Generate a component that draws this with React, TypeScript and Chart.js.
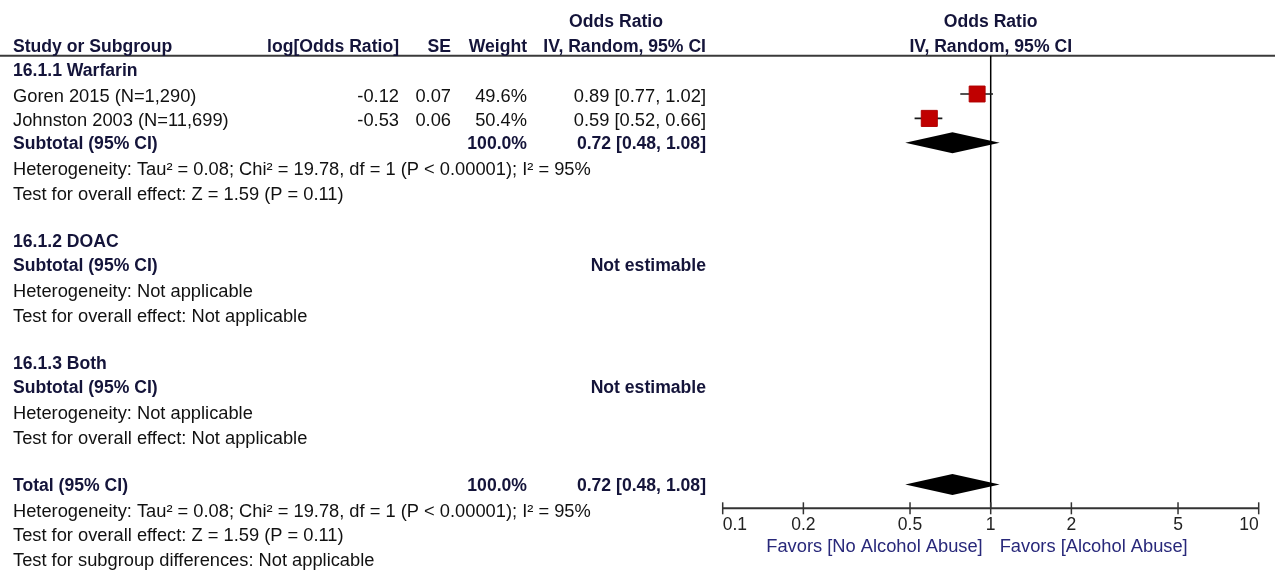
import React, { useEffect, useRef } from "react";
import { Chart, registerables } from "chart.js";

Chart.register(...registerables);

// ---------- data ----------
const studyLabels = ["Goren 2015 (N=1,290)", "Johnston 2003 (N=11,699)"];
const studyLogOR = ["-0.12", "-0.53"];
const studySE = ["0.07", "0.06"];
const studyWeight = [49.6, 50.4];
const studyOR = [0.89, 0.59];
const studyLow = [0.77, 0.52];
const studyHigh = [1.02, 0.66];
const studyRows = [1, 2];

const pooledLabels = ["Subtotal (95% CI)", "Total (95% CI)"];
const pooledRows = [3, 17];
const pooledWeight = [100.0, 100.0];
const pooledOR = [0.72, 0.72];
const pooledLow = [0.48, 0.48];
const pooledHigh = [1.08, 1.08];

const axisTicks = [0.1, 0.2, 0.5, 1, 2, 5, 10];
const axisTickLabels = ["0.1", "0.2", "0.5", "1", "2", "5", "10"];
const favorsLabels = ["Favors [No Alcohol Abuse]", "Favors [Alcohol Abuse]"];

// [row, text, bold]
const leftTextRows: [number, string, boolean][] = [
  [0, "16.1.1 Warfarin", true],
  [4, "Heterogeneity: Tau\u00B2 = 0.08; Chi\u00B2 = 19.78, df = 1 (P < 0.00001); I\u00B2 = 95%", false],
  [5, "Test for overall effect: Z = 1.59 (P = 0.11)", false],
  [7, "16.1.2 DOAC", true],
  [8, "Subtotal (95% CI)", true],
  [9, "Heterogeneity: Not applicable", false],
  [10, "Test for overall effect: Not applicable", false],
  [12, "16.1.3 Both", true],
  [13, "Subtotal (95% CI)", true],
  [14, "Heterogeneity: Not applicable", false],
  [15, "Test for overall effect: Not applicable", false],
  [18, "Heterogeneity: Tau\u00B2 = 0.08; Chi\u00B2 = 19.78, df = 1 (P < 0.00001); I\u00B2 = 95%", false],
  [19, "Test for overall effect: Z = 1.59 (P = 0.11)", false],
  [20, "Test for subgroup differences: Not applicable", false],
];
const notEstimableRows = [8, 13];

// ---------- styles ----------
const FONT = '"Liberation Sans", Arial, sans-serif';
const TEXT_COLOR = "#111111";
const BOLD_COLOR = "#14143a";
const FAVORS_COLOR = "#28287a";
const REG_SIZE = 18.3;
const BOLD_SIZE = 17.6;
const REG_DY = 3;
const BOLD_DY = 1.5;
const COL_LEFT = 13;
const COL_LOG = 399;
const COL_SE = 451;
const COL_WEIGHT = 527;
const COL_CI = 706;
const COL_HEADER_CENTER = 616;

const fmt2 = (v: number) => v.toFixed(2);
const ciText = (o: number, l: number, h: number) => `${fmt2(o)} [${fmt2(l)}, ${fmt2(h)}]`;

const forestPlugin = {
  id: "forestPlugin",
  beforeDatasetsDraw(chart: any) {
    const { ctx, chartArea, scales } = chart;
    const x = scales.x;
    const y = scales.y;
    ctx.save();

    // header rule
    ctx.strokeStyle = "#3a3a3a";
    ctx.lineWidth = 2;
    ctx.beginPath();
    ctx.moveTo(0, chartArea.top);
    ctx.lineTo(chart.width, chartArea.top);
    ctx.stroke();

    // null line
    const x1 = x.getPixelForValue(1);
    ctx.strokeStyle = "#000";
    ctx.lineWidth = 1.5;
    ctx.beginPath();
    ctx.moveTo(x1, chartArea.top);
    ctx.lineTo(x1, chartArea.bottom);
    ctx.stroke();

    // axis
    const ay = chartArea.bottom;
    ctx.strokeStyle = "#333";
    ctx.lineWidth = 2;
    ctx.beginPath();
    ctx.moveTo(x.getPixelForValue(axisTicks[0]), ay);
    ctx.lineTo(x.getPixelForValue(axisTicks[axisTicks.length - 1]), ay);
    ctx.stroke();
    ctx.lineWidth = 1.5;
    axisTicks.forEach((t) => {
      const px = x.getPixelForValue(t);
      ctx.beginPath();
      ctx.moveTo(px, ay - 6);
      ctx.lineTo(px, ay + 6);
      ctx.stroke();
    });
    ctx.fillStyle = "#222";
    ctx.font = `17.5px ${FONT}`;
    ctx.textBaseline = "middle";
    axisTicks.forEach((t, i) => {
      const px = x.getPixelForValue(t);
      ctx.textAlign = i === 0 ? "left" : i === axisTicks.length - 1 ? "right" : "center";
      ctx.fillText(axisTickLabels[i], px, ay + 17);
    });
    ctx.font = `18.3px ${FONT}`;
    ctx.fillStyle = FAVORS_COLOR;
    ctx.textAlign = "right";
    ctx.fillText(favorsLabels[0], x1 - 8, ay + 39);
    ctx.textAlign = "left";
    ctx.fillText(favorsLabels[1], x1 + 9, ay + 39);

    // ---------- table text ----------
    const py = (r: number) => y.getPixelForValue(r);
    const put = (t: string, px: number, r: number, align: CanvasTextAlign, bold: boolean) => {
      ctx.font = bold ? `bold ${BOLD_SIZE}px ${FONT}` : `${REG_SIZE}px ${FONT}`;
      ctx.fillStyle = bold ? BOLD_COLOR : TEXT_COLOR;
      ctx.textAlign = align;
      ctx.textBaseline = "middle";
      ctx.fillText(t, px, py(r) + (bold ? BOLD_DY : REG_DY));
    };

    // headers
    put("Odds Ratio", COL_HEADER_CENTER, -2, "center", true);
    put("Odds Ratio", x1, -2, "center", true);
    put("Study or Subgroup", COL_LEFT, -1, "left", true);
    put("log[Odds Ratio]", COL_LOG, -1, "right", true);
    put("SE", COL_SE, -1, "right", true);
    put("Weight", COL_WEIGHT, -1, "right", true);
    put("IV, Random, 95% CI", COL_CI, -1, "right", true);
    put("IV, Random, 95% CI", x1, -1, "center", true);

    leftTextRows.forEach(([r, t, b]) => put(t, COL_LEFT, r, "left", b));
    notEstimableRows.forEach((r) => put("Not estimable", COL_CI, r, "right", true));

    studyLabels.forEach((lab, i) => {
      const r = studyRows[i];
      put(lab, COL_LEFT, r, "left", false);
      put(studyLogOR[i], COL_LOG, r, "right", false);
      put(studySE[i], COL_SE, r, "right", false);
      put(`${studyWeight[i].toFixed(1)}%`, COL_WEIGHT, r, "right", false);
      put(ciText(studyOR[i], studyLow[i], studyHigh[i]), COL_CI, r, "right", false);
    });
    pooledLabels.forEach((lab, i) => {
      const r = pooledRows[i];
      put(lab, COL_LEFT, r, "left", true);
      put(`${pooledWeight[i].toFixed(1)}%`, COL_WEIGHT, r, "right", true);
      put(ciText(pooledOR[i], pooledLow[i], pooledHigh[i]), COL_CI, r, "right", true);
    });

    ctx.restore();
  },
  afterDatasetsDraw(chart: any) {
    const { ctx, scales } = chart;
    const x = scales.x;
    const y = scales.y;
    ctx.save();
    ctx.fillStyle = "#000";
    const half = 10.5;
    pooledRows.forEach((r, i) => {
      const cy = y.getPixelForValue(r);
      const xl = x.getPixelForValue(pooledLow[i]);
      const xm = x.getPixelForValue(pooledOR[i]);
      const xh = x.getPixelForValue(pooledHigh[i]);
      ctx.beginPath();
      ctx.moveTo(xl, cy);
      ctx.lineTo(xm, cy - half);
      ctx.lineTo(xh, cy);
      ctx.lineTo(xm, cy + half);
      ctx.closePath();
      ctx.fill();
    });
    ctx.restore();
  },
};

export default function App() {
  const ref = useRef<HTMLCanvasElement | null>(null);
  useEffect(() => {
    document.body.style.margin = "0";
    const canvas = ref.current!;
    const W = 1275;
    const H = 571;
    const ciSets = studyLabels.map((_, i) => ({
      type: "scatter" as const,
      data: [
        { x: studyLow[i], y: studyRows[i] },
        { x: studyHigh[i], y: studyRows[i] },
      ],
      showLine: true,
      borderColor: "#1a1a1a",
      borderWidth: 1.6,
      pointRadius: 0,
      order: 2,
    }));
    const chart = new Chart(canvas, {
      type: "scatter",
      data: {
        datasets: [
          ...ciSets,
          {
            data: studyOR.map((v, i) => ({ x: v, y: studyRows[i] })),
            pointStyle: "rect",
            pointRadius: studyWeight.map((w) => 11.3 * Math.sqrt(w / 50)),
            backgroundColor: "#c00000",
            borderColor: "#b00000",
            borderWidth: 1,
            order: 1,
          } as any,
        ],
      },
      options: {
        animation: false,
        responsive: false,
        maintainAspectRatio: false,
        devicePixelRatio: 1,
        layout: { padding: { left: 722.7, right: W - 1258.7, top: 55.7, bottom: H - 508.3 } },
        scales: {
          x: { type: "logarithmic", min: 0.1, max: 10, display: false },
          y: { type: "linear", min: -0.57, max: 17.98, reverse: true, display: false },
        },
        plugins: { legend: { display: false }, tooltip: { enabled: false } },
      },
      plugins: [forestPlugin],
    });
    return () => chart.destroy();
  }, []);
  return (
    <canvas
      ref={ref}
      width={1275}
      height={571}
      style={{ position: "absolute", left: 0, top: 0, width: 1275, height: 571, display: "block" }}
    />
  );
}
